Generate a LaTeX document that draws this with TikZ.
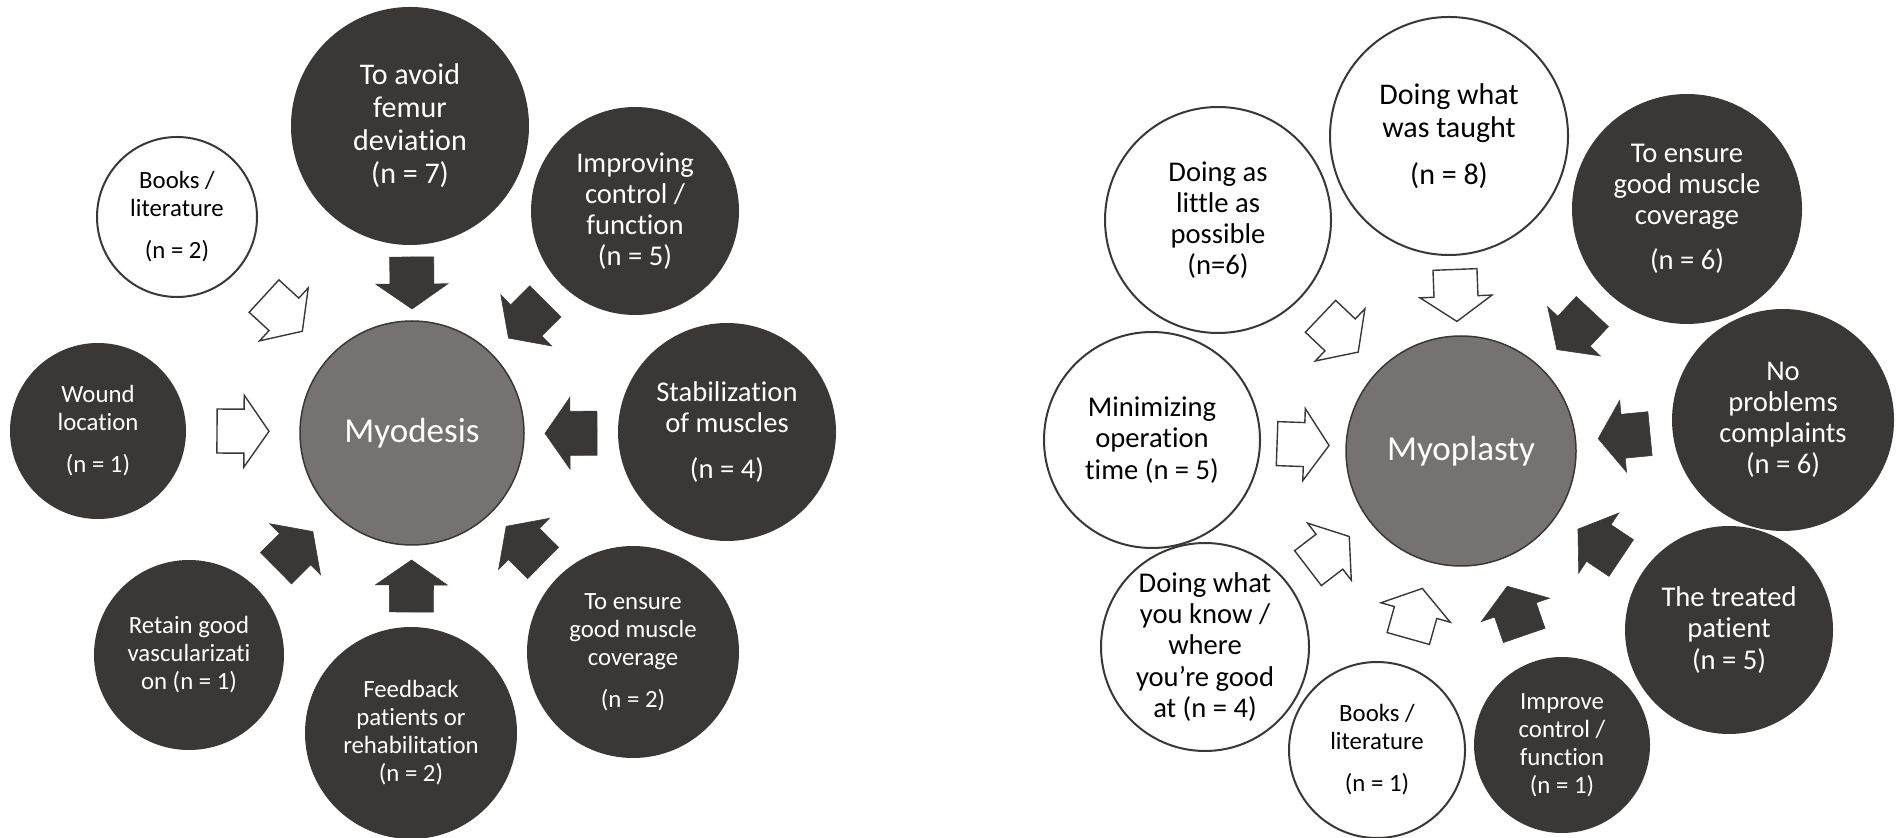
\documentclass[tikz,border=0pt]{standalone}
\usepackage{fontspec}
\setmainfont{Carlito}[Ligatures=NoCommon]
\usetikzlibrary{calc}

\definecolor{darkfill}{HTML}{3A3836}
\definecolor{hubfill}{HTML}{767271}

\tikzset{
  hub/.style={circle, draw=darkfill, line width=0.75pt, fill=hubfill, text=white,
    font=\fontsize{17.5}{20}\selectfont, inner sep=0pt, outer sep=0pt},
  darkc/.style={circle, fill=darkfill, text=white, align=center, inner sep=0pt, outer sep=0pt},
  whitec/.style={circle, draw=darkfill, line width=1pt, fill=white, text=black, align=center,
    inner sep=0pt, outer sep=0pt},
  txtlarge/.style={font=\fontsize{15}{16.5}\selectfont},
  txtmid/.style={font=\fontsize{14.3}{15.6}\selectfont},
  txtsmall/.style={font=\fontsize{12.4}{14}\selectfont},
  darkarr/.style={fill=darkfill, draw=darkfill, line width=0.3pt},
  whitearr/.style={fill=white, draw=darkfill, line width=0.7pt},
}

% block arrow in the gap between a reason circle and the hub
\newcommand{\radarrow}[3]{%
  \path let \p1=(#2), \p2=(#3), \n1={atan2(\y2-\y1,\x2-\x1)}, \n2={\n1+180} in
    coordinate (m) at ($(#2.\n1)!0.5!(#3.\n2)$);
  \coordinate (tl) at ($(m)!13pt!(#2)$);
  \coordinate (tp) at ($(m)!13pt!(#3)$);
  \coordinate (hb) at ($(tp)!12.5pt!(tl)$);
  \draw[#1] ($(tl)!11pt!90:(tp)$) -- ($(hb)!11pt!90:(tp)$) -- ($(hb)!18pt!90:(tp)$) -- (tp)
    -- ($(hb)!18pt!-90:(tp)$) -- ($(hb)!11pt!-90:(tp)$) -- ($(tl)!11pt!-90:(tp)$) -- cycle;
}

\begin{document}
\begin{tikzpicture}[x=0.5pt, y=-0.5pt]
    \useasboundingbox (0,0) rectangle (1898,838);

    % myodesis
    \node[hub, minimum size=112pt] (myodesis) at (412,433) {Myodesis};
    \node[darkc, txtlarge, minimum size=119pt] (femur) at (410,126) {To avoid\\femur\\deviation\\(n = 7)};
    \node[darkc, txtmid, minimum size=104pt] (improving) at (635,211) {Improving\\control /\\function\\(n = 5)};
    \node[darkc, txtmid, minimum size=109pt] (stabil) at (727,432) {Stabilization\\of muscles\\[7pt](n = 4)};
    \node[darkc, txtsmall, minimum size=106pt] (ensureL) at (633,652) {To ensure\\good muscle\\coverage\\[7pt](n = 2)};
    \node[darkc, txtsmall, minimum size=106pt] (feedback) at (411,733) {Feedback\\patients or\\rehabilitation\\(n = 2)};
    \node[darkc, txtsmall, minimum size=95pt] (retain) at (189,655) {Retain good\\vascularizati\\on (n = 1)};
    \node[darkc, txtsmall, minimum size=88pt] (wound) at (98,431) {Wound\\location\\[7pt](n = 1)};
    \node[whitec, txtsmall, minimum size=80pt] (booksL) at (177,217) {Books /\\literature\\[7pt](n = 2)};

    \radarrow{darkarr}{femur}{myodesis}
    \radarrow{darkarr}{improving}{myodesis}
    \radarrow{darkarr}{stabil}{myodesis}
    \radarrow{darkarr}{ensureL}{myodesis}
    \radarrow{darkarr}{feedback}{myodesis}
    \radarrow{darkarr}{retain}{myodesis}
    \radarrow{whitearr}{wound}{myodesis}
    \radarrow{whitearr}{booksL}{myodesis}

    % myoplasty
    \node[hub, minimum size=115pt] (myoplasty) at (1461,451) {Myoplasty};
    \node[whitec, txtlarge, minimum size=119pt] (taught) at (1449,136) {Doing what\\was taught\\[7pt](n = 8)};
    \node[whitec, txtmid, minimum size=113pt] (little) at (1218,220) {Doing as\\little as\\possible\\(n=6)};
    \node[darkc, txtmid, minimum size=115pt] (ensureR) at (1687,209) {To ensure\\good muscle\\coverage\\[7pt](n = 6)};
    \node[darkc, txtmid, minimum size=111pt] (noprob) at (1783,420) {No\\problems\\complaints\\(n = 6)};
    \node[darkc, txtmid, minimum size=104pt] (treated) at (1729,630) {The treated\\patient\\(n = 5)};
    \node[darkc, txtsmall, minimum size=88pt] (improve) at (1562,745) {Improve\\control /\\function\\(n = 1)};
    \node[whitec, txtsmall, minimum size=88pt] (booksR) at (1377,750) {Books /\\literature\\[7pt](n = 1)};
    \node[whitec, txtmid, minimum size=104pt] (know) at (1205,647) {Doing what\\you know /\\where\\you’re good\\at (n = 4)};
    \node[whitec, txtmid, minimum size=108pt] (minim) at (1152,440) {Minimizing\\operation\\time (n = 5)};

    \radarrow{whitearr}{taught}{myoplasty}
    \radarrow{whitearr}{little}{myoplasty}
    \radarrow{darkarr}{ensureR}{myoplasty}
    \radarrow{darkarr}{noprob}{myoplasty}
    \radarrow{darkarr}{treated}{myoplasty}
    \radarrow{darkarr}{improve}{myoplasty}
    \radarrow{whitearr}{booksR}{myoplasty}
    \radarrow{whitearr}{know}{myoplasty}
    \radarrow{whitearr}{minim}{myoplasty}
\end{tikzpicture}
\end{document}
